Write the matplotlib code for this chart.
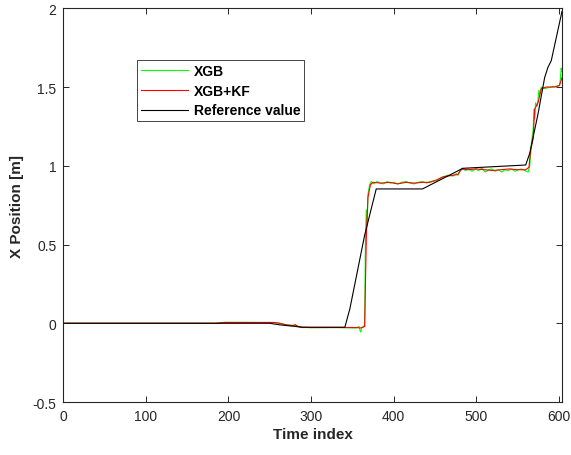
"""
X position estimate: XGB, XGB+KF and reference, drawn in a MATLAB-like style.
"""

import matplotlib
matplotlib.use("Agg")
import matplotlib.pyplot as plt


# ---------------------------------------
# Data
# ---------------------------------------

ref_idx = [0, 250, 262, 290, 341, 347, 365, 379, 435, 484, 560, 565,
           575, 583, 587, 591, 604]
ref_val = [0.0, 0.0, -0.01, -0.025, -0.025, 0.09, 0.56, 0.853, 0.853, 0.984,
           1.005, 1.08, 1.33, 1.56, 1.625, 1.667, 1.98]

kf_idx = [0, 185, 195, 255, 262, 270, 278, 281, 284, 288, 300, 330, 355,
          360, 363, 365, 367, 369, 372, 375, 385, 395, 405, 415, 425, 435,
          444, 452, 460, 466, 472, 478, 481, 483, 490, 500, 510, 520, 530,
          540, 550, 560, 564, 566, 569, 571, 573, 575, 579, 585, 595, 601, 604]
kf_val = [0.0, 0.0, 0.005, 0.005, 0.0, -0.01, -0.015, -0.01, -0.02, -0.025,
          -0.027, -0.027, -0.027, -0.03, -0.025, -0.02, 0.55, 0.8, 0.88, 0.895,
          0.89, 0.895, 0.885, 0.895, 0.89, 0.895, 0.895, 0.91, 0.93, 0.935,
          0.94, 0.945, 0.97, 0.98, 0.975, 0.98, 0.975, 0.97, 0.975, 0.98,
          0.975, 0.975, 0.99, 1.1, 1.17, 1.36, 1.38, 1.40, 1.49, 1.50, 1.50,
          1.51, 1.56]

xgb_idx = [0, 185, 195, 255, 262, 270, 278, 281, 284, 288, 300, 330, 355,
           358, 360, 362, 365, 366, 367, 368, 369, 371, 373, 376, 380, 384,
           388, 392, 396, 400, 405, 410, 415, 420, 425, 430, 435, 440, 444,
           452, 460, 466, 472, 476, 478, 481, 483, 487, 491, 495, 499, 503,
           507, 511, 515, 519, 523, 527, 531, 535, 539, 543, 547, 551, 555,
           559, 563, 565, 567, 569, 570, 571, 572, 574, 575, 576, 577, 579,
           583, 590, 597, 601, 602, 603, 604]
xgb_val = [0.0, 0.0, 0.006, 0.005, 0.0, -0.01, -0.013, -0.008, -0.02, -0.027,
           -0.028, -0.027, -0.03, -0.02, -0.055, -0.025, -0.015, 0.55, 0.72,
           0.62, 0.82, 0.88, 0.9, 0.885, 0.9, 0.89, 0.885, 0.9, 0.89, 0.895,
           0.885, 0.895, 0.9, 0.89, 0.885, 0.895, 0.9, 0.89, 0.9, 0.905, 0.93,
           0.94, 0.935, 0.95, 0.94, 0.975, 0.985, 0.97, 0.98, 0.965, 0.98,
           0.97, 0.985, 0.96, 0.975, 0.98, 0.965, 0.975, 0.96, 0.975, 0.97,
           0.98, 0.965, 0.975, 0.98, 0.97, 0.96, 1.0, 1.15, 1.22, 1.36, 1.30,
           1.40, 1.38, 1.42, 1.48, 1.45, 1.50, 1.49, 1.50, 1.505, 1.51, 1.55,
           1.62, 1.60]

x_ticks = [0, 100, 200, 300, 400, 500, 600]
y_ticks = [-0.5, 0, 0.5, 1, 1.5, 2]
y_tick_labels = ["-0.5", "0", "0.5", "1", "1.5", "2"]

# ---------------------------------------
# Style
# ---------------------------------------

AXIS_COLOR = "#262626"

plt.rcParams.update({
    "font.family": ["Liberation Sans", "DejaVu Sans"],
    "font.size": 10,
    "axes.linewidth": 0.8,
    "axes.edgecolor": AXIS_COLOR,
    "xtick.color": AXIS_COLOR,
    "ytick.color": AXIS_COLOR,
    "xtick.direction": "in",
    "ytick.direction": "in",
    "xtick.major.size": 4,
    "ytick.major.size": 4,
    "xtick.major.width": 0.7,
    "ytick.major.width": 0.7,
})

fig = plt.figure(figsize=(5.71, 4.56), dpi=100)
ax = fig.add_axes([0.1109, 0.1162, 0.8733, 0.8634])

ax.plot(xgb_idx, xgb_val, color="#00ff00", linewidth=0.8, label="XGB")
ax.plot(kf_idx, kf_val, color="#ff0000", linewidth=0.8, label="XGB+KF")
ax.plot(ref_idx, ref_val, color="black", linewidth=0.8, label="Reference value")

ax.set_xlim(0, 604)
ax.set_ylim(-0.5, 2)
ax.set_xticks(x_ticks)
ax.set_yticks(y_ticks)
ax.set_yticklabels(y_tick_labels)
ax.tick_params(top=True, right=True, labelsize=10, pad=5)

ax.set_xlabel("Time index", fontsize=11, fontweight="bold", color=AXIS_COLOR,
              labelpad=3)
ax.set_ylabel("X Position [m]", fontsize=11, fontweight="bold",
              color=AXIS_COLOR, labelpad=6)

# Legend box sits at roughly (137, 61) px in the reference picture.
leg = ax.legend(loc="upper left", bbox_to_anchor=(0.148, 0.869),
                borderaxespad=0, fancybox=False, framealpha=1,
                edgecolor=AXIS_COLOR, handlelength=3.4, handletextpad=0.38,
                labelspacing=0.42, borderpad=0.28,
                prop={"weight": "bold", "size": 10})
leg.get_frame().set_linewidth(0.6)

fig.savefig("out.png", dpi=100)
